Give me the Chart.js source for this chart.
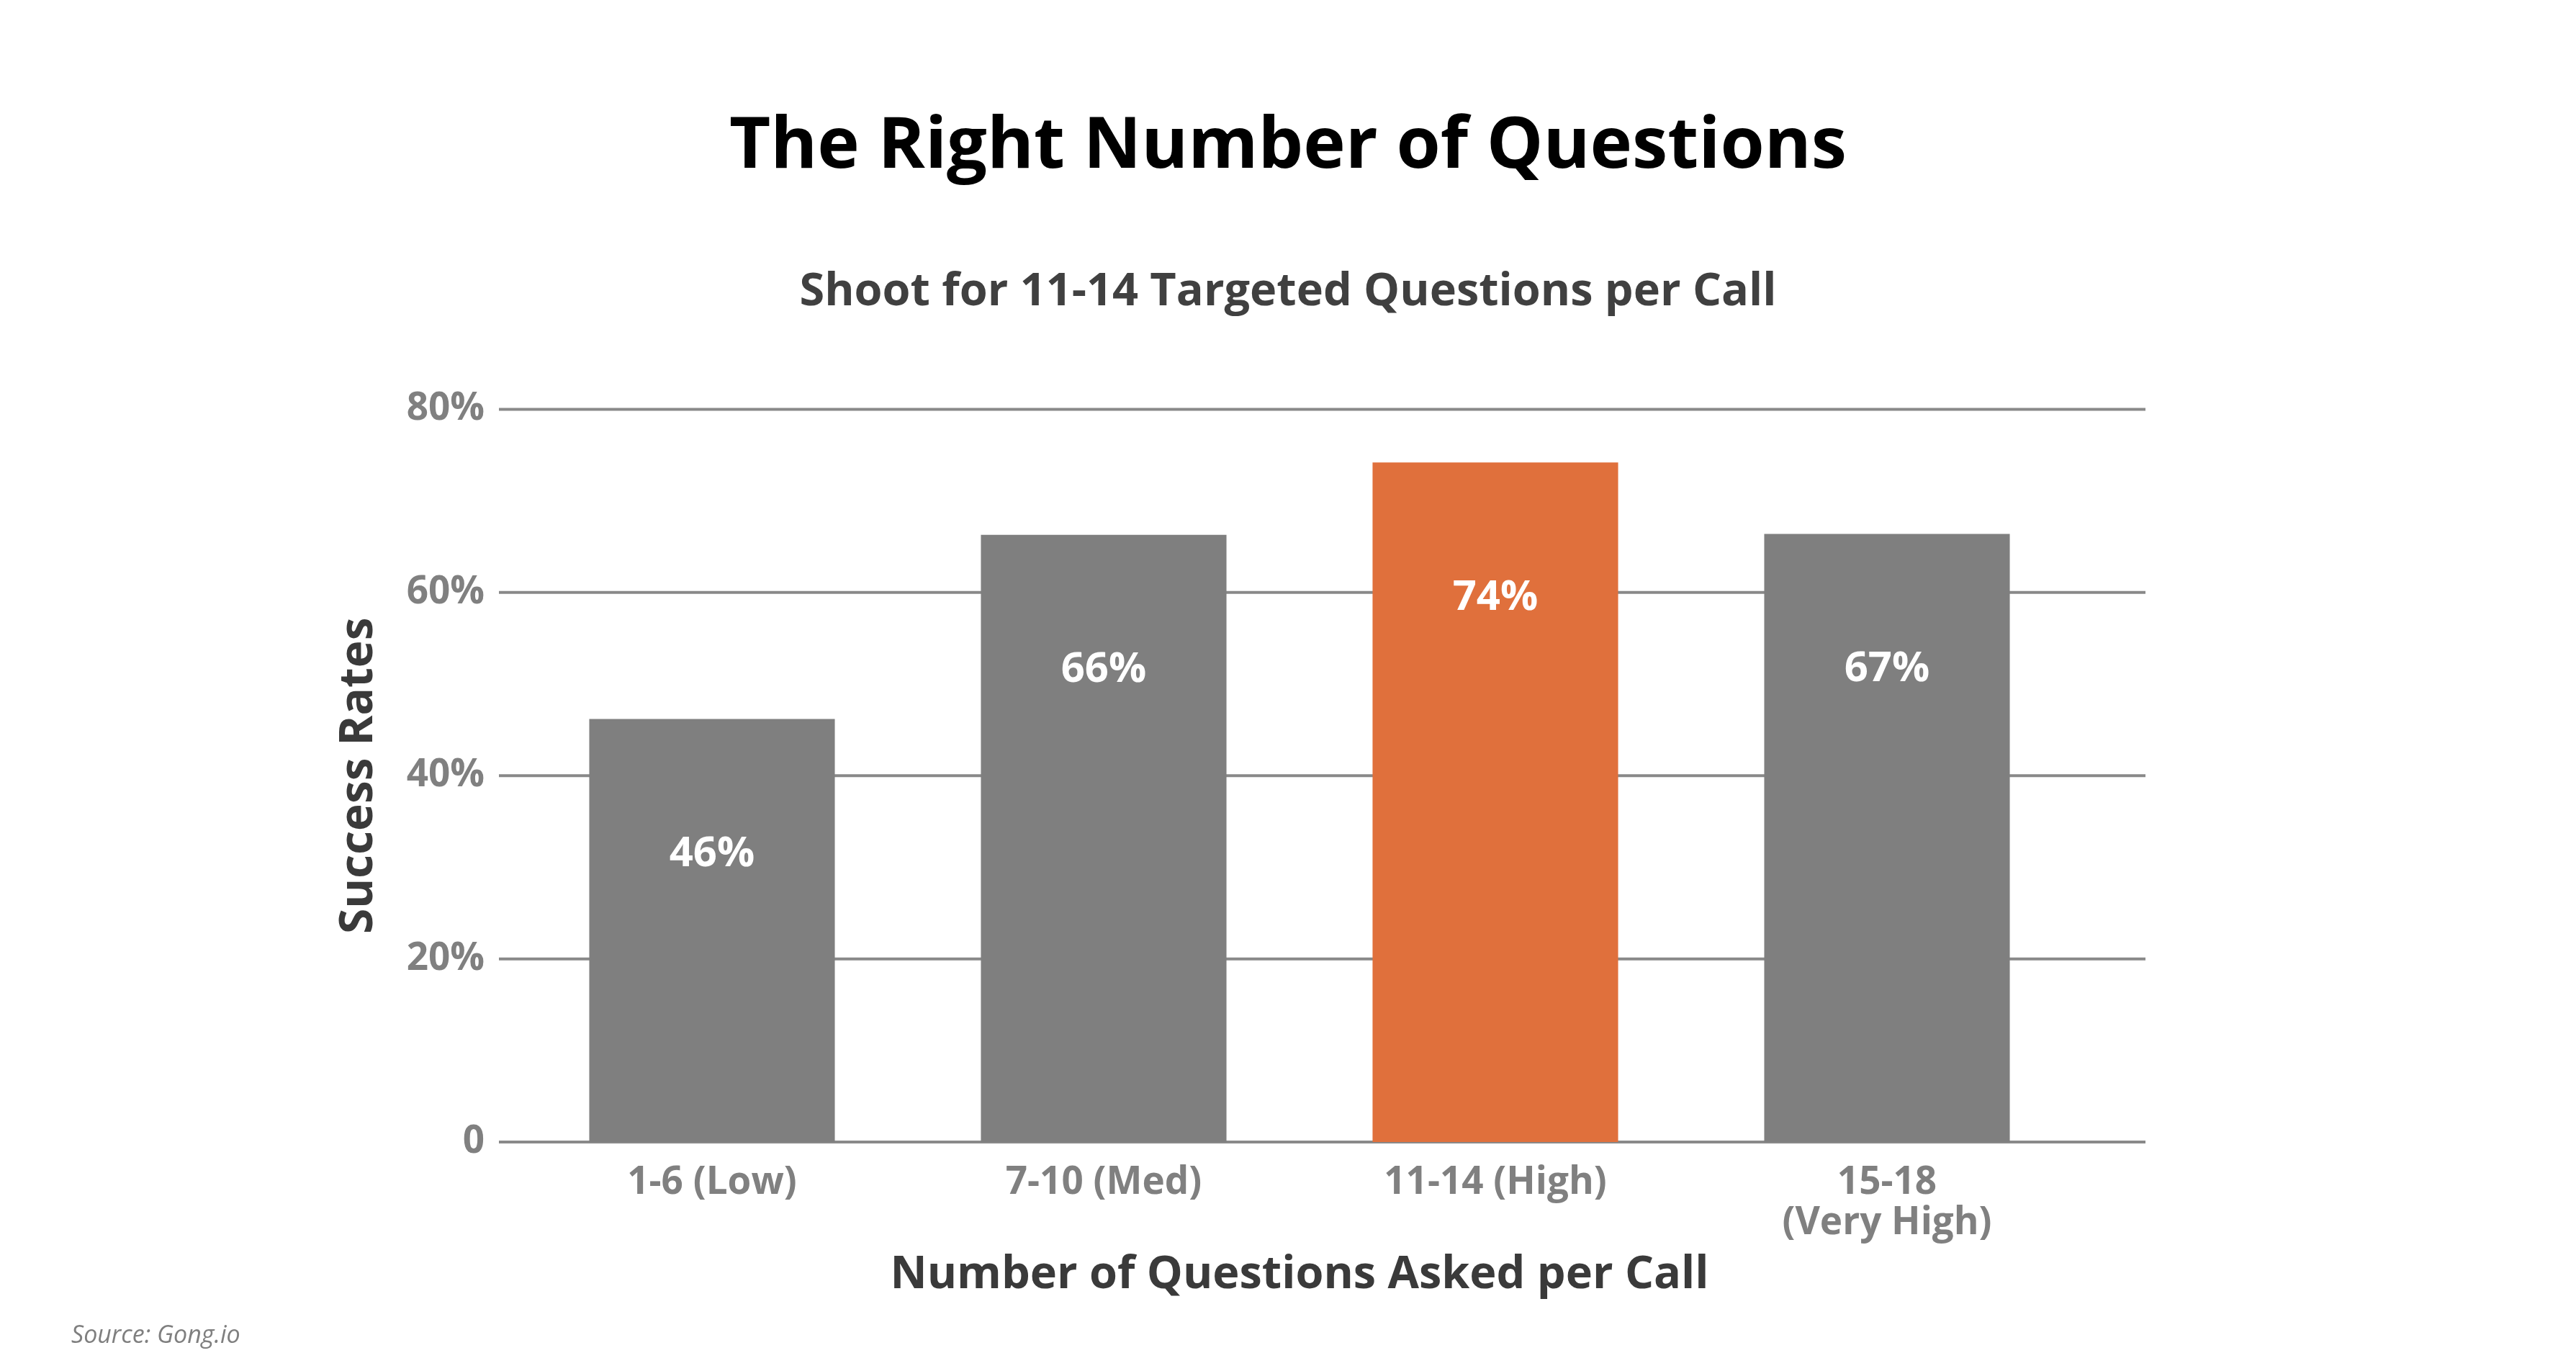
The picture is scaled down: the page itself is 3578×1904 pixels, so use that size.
<!DOCTYPE html>
<html>
<head>
<meta charset="utf-8">
<script src="https://cdn.jsdelivr.net/npm/chart.js@4/dist/chart.umd.min.js"></script>
<style>
  html, body { margin: 0; padding: 0; background: #fff; }
  #wrap { position: relative; width: 3578px; height: 1904px; }
  #source {
    position: absolute; left: 99px; top: 1830px;
    font: italic 34px 'Open Sans', sans-serif; line-height: 44px;
    color: #7f7f7f;
  }
</style>
</head>
<body>
<div id="wrap">
  <canvas id="questionsChart"></canvas>
  <div id="source">Source: Gong.io</div>
</div>
<script>
// Data
const categories = ['1-6 (Low)', '7-10 (Med)', '11-14 (High)', ['15-18', '(Very High)']];
const successRates = [46.2, 66.3, 74.2, 66.4];
const rateLabels = ['46%', '66%', '74%', '67%'];
const barColors = ['#7f7f7f', '#7f7f7f', '#e0703c', '#7f7f7f'];
const yTicks = [0, 20, 40, 60, 80];

Chart.defaults.font.family = "'Open Sans', sans-serif";

// Horizontal grid lines that run a bit past the plot on both sides
const gridLines = {
    id: 'gridLines',
    beforeDatasetsDraw(chart) {
        const { ctx, chartArea, scales } = chart;
        ctx.save();
        ctx.strokeStyle = '#898989';
        ctx.lineWidth = 4;
        scales.y.ticks.forEach(t => {
            const y = scales.y.getPixelForValue(t.value);
            ctx.beginPath();
            ctx.moveTo(chartArea.left - 24, y);
            ctx.lineTo(chartArea.right + 87, y);
            ctx.stroke();
        });
        ctx.restore();
    }
};

// Value labels inside the bars
const barLabels = {
    id: 'barLabels',
    afterDatasetsDraw(chart) {
        const { ctx } = chart;
        const meta = chart.getDatasetMeta(0);
        ctx.save();
        ctx.fillStyle = '#ffffff';
        ctx.font = "bold 58px 'Open Sans', sans-serif";
        ctx.textAlign = 'center';
        ctx.textBaseline = 'middle';
        meta.data.forEach((bar, i) => {
            ctx.fillText(rateLabels[i], bar.x, bar.y + 188);
        });
        ctx.restore();
    }
};

new Chart(document.getElementById('questionsChart'), {
    type: 'bar',
    data: {
        labels: categories,
        datasets: [{
            label: 'Success Rates',
            data: successRates,
            backgroundColor: barColors,
            borderWidth: 0,
            categoryPercentage: 1,
            barPercentage: 0.627
        }]
    },
    options: {
        responsive: true,
        maintainAspectRatio: false,
        devicePixelRatio: 1,
        animation: false,
        layout: {
            padding: { left: 0, right: 0, top: 0, bottom: 95 }
        },
        plugins: {
            legend: { display: false },
            tooltip: { enabled: false },
            title: {
                display: true,
                text: 'The Right Number of Questions',
                color: '#000000',
                font: { size: 99, weight: 'bold', lineHeight: 1.2 },
                padding: { top: 145, bottom: 104 }
            },
            subtitle: {
                display: true,
                text: 'Shoot for 11-14 Targeted Questions per Call',
                color: '#404040',
                font: { size: 63, weight: 'bold', lineHeight: 1.2 },
                padding: { top: 0, bottom: 125 }
            }
        },
        scales: {
            x: {
                grid: { display: false },
                border: { display: false },
                ticks: {
                    color: '#808080',
                    font: { size: 53, weight: 'bold', lineHeight: 1.05 },
                    padding: 21,
                    maxRotation: 0
                },
                title: {
                    display: true,
                    text: 'Number of Questions Asked per Call',
                    color: '#3a3a3a',
                    font: { size: 63, weight: 'bold', lineHeight: 1.2 },
                    padding: { top: -14, bottom: 0 }
                }
            },
            y: {
                min: 0,
                max: 80,
                afterBuildTicks: scale => {
                    scale.ticks = yTicks.map(v => ({ value: v }));
                },
                afterFit: scale => { scale.width = 717; },
                grid: { display: false },
                border: { display: false },
                ticks: {
                    color: '#808080',
                    font: { size: 53, weight: 'bold' },
                    padding: 36,
                    callback: value => value === 0 ? '0' : value + '%'
                },
                title: {
                    display: true,
                    text: 'Success Rates',
                    color: '#3a3a3a',
                    font: { size: 64, weight: 'bold', lineHeight: 1.2 },
                    padding: { top: 460, bottom: 0 }
                }
            },
            // empty axis that only reserves the white margin on the right
            spacer: {
                type: 'linear',
                position: 'right',
                display: true,
                afterFit: scale => { scale.width = 685; },
                grid: { display: false },
                border: { display: false },
                ticks: { display: false },
                title: { display: false }
            }
        }
    },
    plugins: [gridLines, barLabels]
});
</script>
</body>
</html>
